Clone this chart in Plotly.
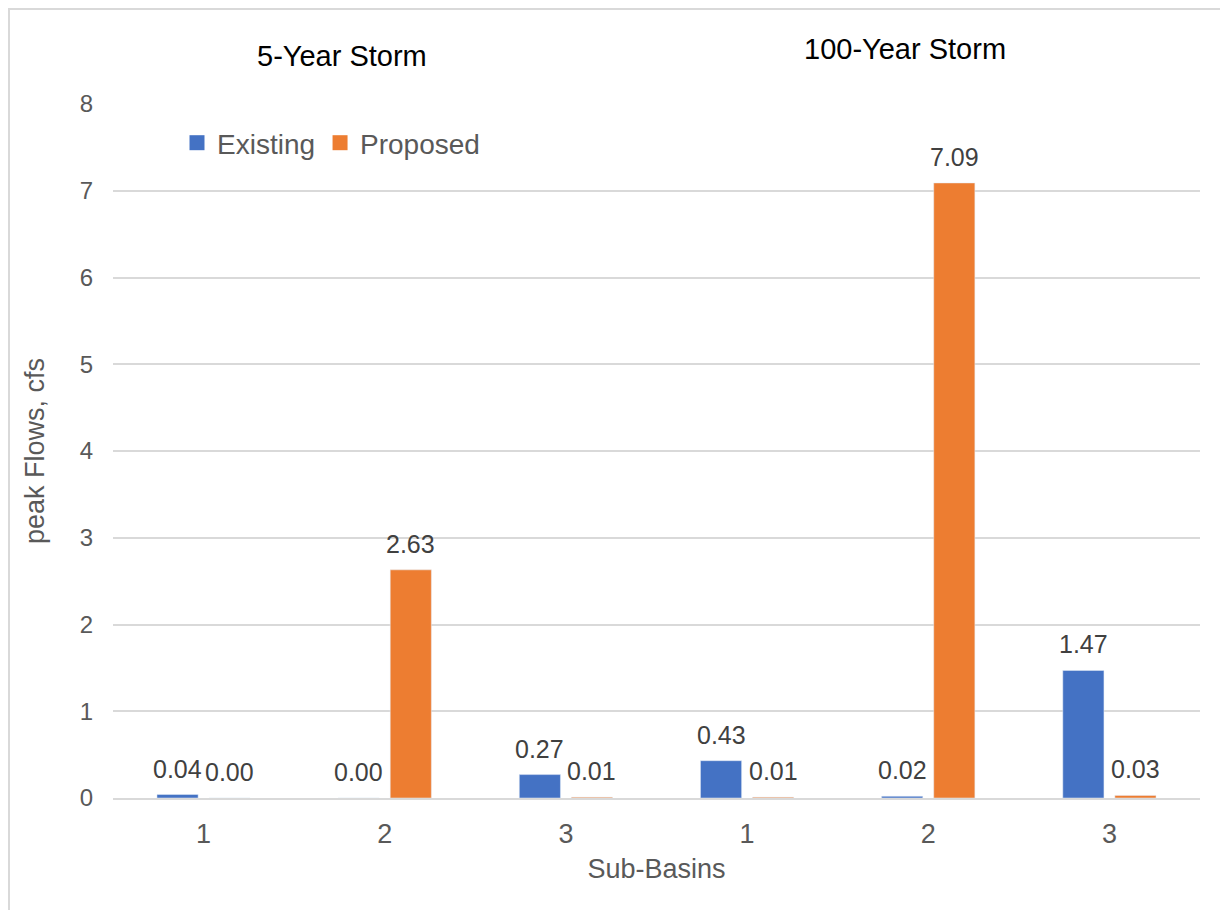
import plotly.graph_objects as go

categories = ["1", "2", "3", "1", "2", "3"]
existing = [0.04, 0.00, 0.27, 0.43, 0.02, 1.47]
proposed = [0.00, 2.63, 0.01, 0.01, 7.09, 0.03]
group_titles = ["5-Year Storm", "100-Year Storm"]
y_ticks = [0, 1, 2, 3, 4, 5, 6, 7, 8]

# page has an 8px body margin; figure coords = reference px - OFF
OFF = 8
W, H = 1212, 902
L, T = 113 - OFF, 104 - OFF
pw, ph = 1087, 694
R = W - L - pw
B = H - T - ph

FONT = "Liberation Sans"
GRAY = "#595959"
LBL = "#404040"
BLUE = "#4472C4"
ORANGE = "#ED7D31"

xpos = list(range(len(categories)))

BARGAP = 0.425
BARGROUPGAP = 0.21
slot_px = (1 - BARGAP) * (pw / len(categories)) / 2  # width of one series slot

def px2x(px):
    return (px - OFF - L) / pw

def px2y(py):
    return (T + ph - (py - OFF)) / ph

fig = go.Figure()
fig.add_trace(go.Bar(x=xpos, y=existing, name="Existing", marker_color=BLUE, showlegend=False))
fig.add_trace(go.Bar(x=xpos, y=proposed, name="Proposed", marker_color=ORANGE, showlegend=False))
# legend entries with larger square swatches
for name, col in [("Existing", BLUE), ("Proposed", ORANGE)]:
    fig.add_trace(go.Scatter(
        x=[None], y=[None], mode="markers", name=name,
        marker=dict(symbol="square", size=15, color=col), showlegend=True,
    ))

annotations = []
for series, sign in [(existing, -1), (proposed, 1)]:
    for xi, v in zip(xpos, series):
        annotations.append(dict(
            x=xi, y=v, xref="x", yref="y", text=f"{v:.2f}", showarrow=False,
            xanchor="center", yanchor="middle", xshift=sign * slot_px / 2, yshift=26,
            font=dict(size=25, color=LBL, family=FONT),
        ))

annotations += [
    dict(text=group_titles[0], x=px2x(342), y=px2y(56), xref="paper", yref="paper",
         xanchor="center", yanchor="middle",
         showarrow=False, font=dict(size=29, color="black", family=FONT)),
    dict(text=group_titles[1], x=px2x(905), y=px2y(49), xref="paper", yref="paper",
         xanchor="center", yanchor="middle",
         showarrow=False, font=dict(size=29, color="black", family=FONT)),
]

fig.update_layout(
    width=W, height=H,
    margin=dict(l=L, r=R, t=T, b=B),
    paper_bgcolor="white", plot_bgcolor="white",
    barmode="group", bargap=BARGAP, bargroupgap=BARGROUPGAP,
    font=dict(family=FONT, color=GRAY),
    showlegend=True,
    legend=dict(
        orientation="h", x=px2x(177), y=px2y(143), xanchor="left", yanchor="middle",
        font=dict(size=28, color=GRAY, family=FONT), bgcolor="rgba(0,0,0,0)",
        itemwidth=30, traceorder="normal", itemsizing="trace",
    ),
    xaxis=dict(
        range=[-0.5, 5.5], tickmode="array", tickvals=xpos, ticktext=categories,
        showgrid=False, zeroline=False, showline=True, linecolor="#d9d9d9", linewidth=2,
        ticks="", tickfont=dict(size=27, color=GRAY, family=FONT), ticklabelstandoff=11,
        title=dict(text="Sub-Basins", font=dict(size=27, color=GRAY, family=FONT), standoff=11),
    ),
    yaxis=dict(
        range=[0, 8], tickmode="array", tickvals=y_ticks,
        showgrid=True, gridcolor="#d9d9d9", gridwidth=2, zeroline=False, showline=False,
        ticks="", tickfont=dict(size=24, color=GRAY, family=FONT), ticklabelstandoff=19,
        title=dict(text="peak Flows, cfs", font=dict(size=27, color=GRAY, family=FONT), standoff=27),
    ),
    annotations=annotations,
    shapes=[
        dict(type="rect", xref="paper", yref="paper",
             x0=px2x(OFF + 1), x1=px2x(1260), y0=px2y(960), y1=px2y(OFF + 1),
             line=dict(color="#d9d9d9", width=2), fillcolor="rgba(0,0,0,0)", layer="below"),
    ],
)

fig.write_html("out.html")
